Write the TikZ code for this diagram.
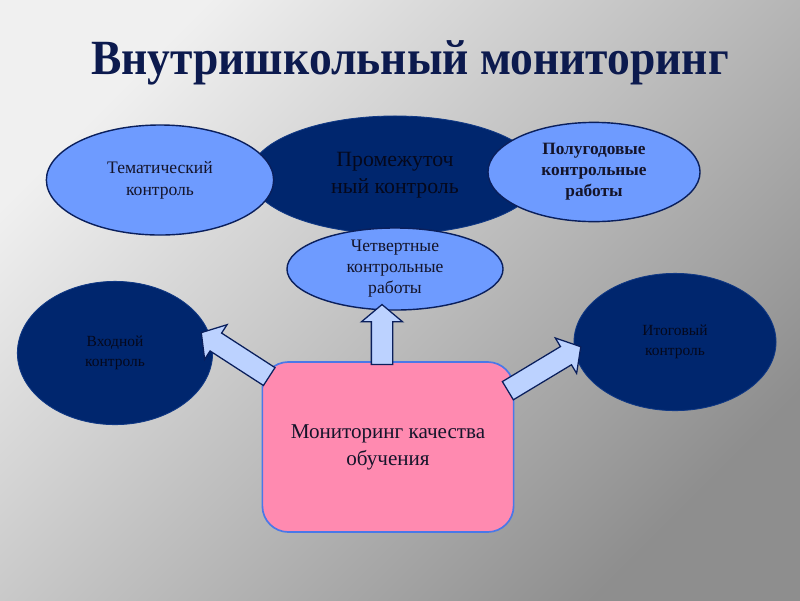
\documentclass[tikz,border=0pt]{standalone}
\usepackage{fontspec}
\setmainfont{Liberation Serif}
\usepackage{tikz}
\usetikzlibrary{shapes.geometric,shapes.arrows,calc}
\definecolor{navy}{HTML}{00266E}
\definecolor{sky}{HTML}{6E9BFF}
\definecolor{rim}{HTML}{0A1F5C}
\definecolor{pinkbox}{HTML}{FF8AB0}
\definecolor{pinkrim}{HTML}{4A78E8}
\definecolor{pale}{HTML}{BCD2FF}
\definecolor{ink}{HTML}{14142A}
\definecolor{deepink}{HTML}{05081C}
\definecolor{titleblue}{HTML}{0C1A4E}
\definecolor{bglight}{HTML}{F0F0F0}
\definecolor{bgmid}{HTML}{B2B2B2}
\definecolor{bgdark}{HTML}{8E8E8E}

\begin{document}
\begin{tikzpicture}[x=0.025cm,y=-0.025cm,
    light/.style={ellipse,fill=sky,draw=rim,line width=1pt,text=ink,align=center,inner sep=0pt},
    dark/.style={ellipse,fill=navy,draw=navy!85!sky,line width=0.6pt,text=deepink,align=center,inner sep=0pt},
    blockarrow/.style={single arrow,fill=pale,draw=rim,line width=0.9pt,inner xsep=0pt,inner ysep=0.25cm,
        single arrow head extend=0.25cm,single arrow tip angle=100}]
    \shade[top color=bglight,middle color=bgmid,bottom color=bgdark,shading angle=45] (0,0) rectangle (800,600);
    \useasboundingbox (0,0) rectangle (800,600);
    \node[text=titleblue,font=\fontsize{35}{40}\selectfont\bfseries] at(410,63)(title){\scalebox{0.925}[1]{Внутришкольный мониторинг}};
    %
    \node[dark,minimum width=7.25cm,minimum height=2.95cm,font=\fontsize{15.5}{19}\selectfont] at(395,175)(prom){Промежуточ\\ный контроль};
    \node[light,minimum width=5.68cm,minimum height=2.75cm,font=\fontsize{12.5}{15.5}\selectfont] at(160,180)(tema){Тематический\\контроль};
    \node[light,minimum width=5.3cm,minimum height=2.48cm,font=\fontsize{12.3}{15}\selectfont\bfseries] at(594,172)(polu){Полугодовые\\контрольные\\работы};
    \node[light,minimum width=5.4cm,minimum height=2.05cm,font=\fontsize{12.5}{15}\selectfont] at(395,269)(chetv){Четвертные\\контрольные\\работы};
    %
    \node[dark,minimum width=4.88cm,minimum height=3.58cm,font=\fontsize{11}{14}\selectfont] at(115,353)(vhod){Входной\\контроль};
    \node[dark,minimum width=5.05cm,minimum height=3.43cm,font=\fontsize{11}{14}\selectfont] at(675,342)(itog){Итоговый\\контроль};
    \node[rectangle,rounded corners=0.65cm,fill=pinkbox,draw=pinkrim,line width=1.2pt,text=ink,align=center,
        minimum width=6.28cm,minimum height=4.25cm,font=\fontsize{15}{19}\selectfont] at(388,447)(box){Мониторинг качества\\обучения};
    %
    \coordinate (ua) at(382,369);
    \coordinate (ub) at(382,309);
    \coordinate (la) at(273,379);
    \coordinate (lb) at(205,335);
    \coordinate (ra) at(504,393);
    \coordinate (rb) at(577,349);
    \path let \p1=($(ub)-(ua)$), \n1={veclen(\x1,\y1)}, \n2={atan2(\y1,\x1)} in
        node[blockarrow,minimum height=\n1,rotate=\n2] at($(ua)!0.5!(ub)$)(up){};
    \path let \p1=($(lb)-(la)$), \n1={veclen(\x1,\y1)}, \n2={atan2(\y1,\x1)} in
        node[blockarrow,minimum height=\n1,rotate=\n2] at($(la)!0.5!(lb)$)(left){};
    \path let \p1=($(rb)-(ra)$), \n1={veclen(\x1,\y1)}, \n2={atan2(\y1,\x1)} in
        node[blockarrow,minimum height=\n1,rotate=\n2] at($(ra)!0.5!(rb)$)(right){};
\end{tikzpicture}
\end{document}
